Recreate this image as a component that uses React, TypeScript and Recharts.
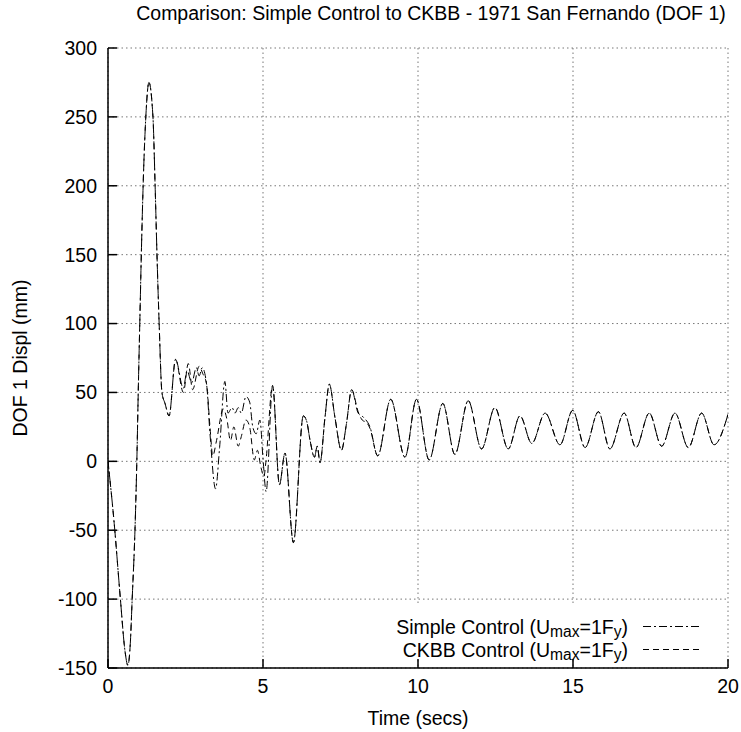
import { LineChart, Line, XAxis, YAxis, CartesianGrid } from 'recharts'

const FONT = '"Liberation Sans", Arial, Helvetica, sans-serif'
const FS = 19.5

const xTicks = [0, 5, 10, 15, 20]
const yTicks = [-150, -100, -50, 0, 50, 100, 150, 200, 250, 300]

// Simple control (dash-dot)
const simpleTime = [
  0, 0.2, 0.4, 0.55, 0.64, 0.72, 0.78, 0.87, 0.93, 0.98, 1.03, 1.08, 1.14, 1.22, 1.32, 1.45, 1.52, 1.58, 1.65, 1.74, 1.84, 1.97,
  2.18, 2.43, 2.55, 2.7, 2.85, 2.94, 3.04, 3.18, 3.29, 3.47, 3.6, 3.77, 3.87, 4.0, 4.1, 4.2, 4.3, 4.45, 4.57, 4.67, 4.78, 4.9, 5.0, 5.1,
  5.31, 5.53, 5.71, 5.98, 6.3, 6.41, 6.52, 6.66, 6.75, 6.84, 7.0, 7.14, 7.32, 7.53, 7.69, 7.86, 8.07, 8.24, 8.45, 8.7,
  9.12, 9.58, 9.95, 10.36, 10.8, 11.19, 11.62, 12.05, 12.48, 12.91, 13.29, 13.67, 14.1, 14.58, 14.99, 15.39, 15.82, 16.19,
  16.65, 17.03, 17.46, 17.86, 18.29, 18.72, 19.15, 19.55, 20,
]
const simpleDispl = [
  0, -45, -100, -138, -148, -132, -100, -50, 0, 55, 105, 155, 205, 250, 275, 250, 200, 150, 100, 50, 42, 33,
  74, 53, 66, 57, 68, 62, 68, 56, 20, -20, 10, 58, 35, 39, 35, 39, 35, 47, 43, 25, 20, 30, 2, -22,
  55, -17, 6, -59, 33, 29, 15, 3, 11, -1, 32, 56, 32, 8, 27, 52, 35, 32, 25, 4,
  45, 3, 45, 1, 42, 5, 44, 9, 39, 9, 33, 13, 35, 12, 37, 10, 36, 9,
  35, 10, 35, 11, 35, 10, 35, 12, 34,
]

// CKBB control (dashed)
const ckbbTime = [
  0, 0.2, 0.4, 0.55, 0.64, 0.72, 0.78, 0.87, 0.93, 0.98, 1.03, 1.08, 1.14, 1.22, 1.32, 1.45, 1.52, 1.58, 1.65, 1.74, 1.84, 1.97,
  2.18, 2.43, 2.59, 2.73, 2.94, 3.05, 3.18, 3.29, 3.38, 3.5, 3.72, 3.84, 3.95, 4.06, 4.2, 4.3, 4.45, 4.57, 4.72, 4.82, 4.93, 5.03, 5.09,
  5.31, 5.53, 5.71, 5.98, 6.3, 6.41, 6.52, 6.66, 6.75, 6.84, 7.0, 7.14, 7.32, 7.53, 7.69, 7.86, 8.07, 8.2, 8.35, 8.45, 8.7,
  9.12, 9.58, 9.95, 10.36, 10.8, 11.19, 11.62, 12.05, 12.48, 12.91, 13.29, 13.67, 14.1, 14.58, 14.99, 15.39, 15.82, 16.19,
  16.65, 17.03, 17.46, 17.86, 18.29, 18.72, 19.15, 19.55, 20,
]
const ckbbDispl = [
  0, -45, -100, -138, -148, -132, -100, -50, 0, 55, 105, 155, 205, 250, 275, 250, 200, 150, 100, 50, 42, 33,
  74, 50, 71, 52, 69, 64, 56, 25, 4, 15, 38, 30, 15, 25, 11, 18, 30, 25, 1, 8, -4, -11, -1,
  55, -17, 6, -59, 33, 29, 15, 3, 11, -1, 32, 56, 32, 8, 27, 52, 36, 30, 28, 24, 4,
  45, 3, 45, 1, 42, 5, 44, 9, 39, 9, 33, 13, 35, 12, 37, 10, 36, 9,
  35, 10, 35, 11, 35, 10, 35, 12, 34,
]

const simpleData = simpleTime.map((t, i) => ({ t, v: simpleDispl[i] }))
const ckbbData = ckbbTime.map((t, i) => ({ t, v: ckbbDispl[i] }))

const TICK = { fill: '#000', fontSize: FS, fontFamily: FONT }
const AXIS_LINE = { stroke: '#000', strokeWidth: 1.5 }
const TICK_LINE = { stroke: '#000', strokeWidth: 1.5 }

const SIMPLE_DASH = '8 3 2 3'
const CKBB_DASH = '6 4'

function LegendRow({ y, name, dash }: { y: number; name: string; dash: string }) {
  const sub = FS * 0.8
  return (
    <g>
      <text x={253} y={y} textAnchor="end" dominantBaseline="central" fontSize={FS} fontFamily={FONT} fill="#000">
        {name} (U<tspan dy={4} fontSize={sub}>max</tspan><tspan dy={-4}>=1F</tspan><tspan dy={4} fontSize={sub}>y</tspan><tspan dy={-4}>)</tspan>
      </text>
      <line x1={268} x2={326} y1={y} y2={y} stroke="#000" strokeWidth={1} strokeDasharray={dash} />
    </g>
  )
}

export default function App() {
  return (
    <div style={{ position: 'absolute', left: 0, top: 0, width: 741, height: 732, background: '#fff' }}>
      <div style={{
        position: 'absolute', left: 131, top: 2, width: 600, textAlign: 'center',
        fontFamily: FONT, fontSize: FS, lineHeight: '22px', color: '#000', whiteSpace: 'nowrap',
      }}>
        Comparison: Simple Control to CKBB - 1971 San Fernando (DOF 1)
      </div>
      <LineChart width={741} height={732} data={simpleData}
        margin={{ top: 48, right: 13, left: 0, bottom: 0 }}>
        <CartesianGrid stroke="#777" strokeDasharray="1.5 3" />
        <XAxis dataKey="t" type="number" domain={[0, 20]} ticks={xTicks} allowDataOverflow
          height={64} tick={TICK} axisLine={AXIS_LINE} tickLine={TICK_LINE} tickSize={-9} tickMargin={20}
          label={{ value: 'Time (secs)', position: 'insideBottom', offset: 7, fill: '#000', fontSize: FS, fontFamily: FONT }} />
        <XAxis xAxisId="top" orientation="top" type="number" domain={[0, 20]} ticks={xTicks} allowDataOverflow
          height={0} tick={false} axisLine={AXIS_LINE} tickLine={TICK_LINE} tickSize={-9} />
        <YAxis type="number" domain={[-150, 300]} ticks={yTicks} allowDataOverflow
          width={108} tick={TICK} axisLine={AXIS_LINE} tickLine={TICK_LINE} tickSize={-9} tickMargin={20}
          label={{ value: 'DOF 1 Displ (mm)', angle: -90, position: 'insideLeft', offset: 20, fill: '#000', fontSize: FS, fontFamily: FONT, style: { textAnchor: 'middle' } }} />
        <YAxis yAxisId="right" orientation="right" type="number" domain={[-150, 300]} ticks={yTicks} allowDataOverflow
          width={0} tick={false} axisLine={AXIS_LINE} tickLine={TICK_LINE} tickSize={-9} />
        <Line data={simpleData} dataKey="v" type="monotone" stroke="#000" strokeWidth={1}
          strokeDasharray={SIMPLE_DASH} dot={false} isAnimationActive={false} />
        <Line data={ckbbData} dataKey="v" type="monotone" stroke="#000" strokeWidth={1}
          strokeDasharray={CKBB_DASH} dot={false} isAnimationActive={false} />
      </LineChart>
      <svg width={352} height={53} style={{ position: 'absolute', left: 375, top: 606, background: '#fff', overflow: 'visible' }}>
        <LegendRow y={20.5} name="Simple Control" dash={SIMPLE_DASH} />
        <LegendRow y={43.5} name="CKBB Control" dash={CKBB_DASH} />
      </svg>
    </div>
  )
}
